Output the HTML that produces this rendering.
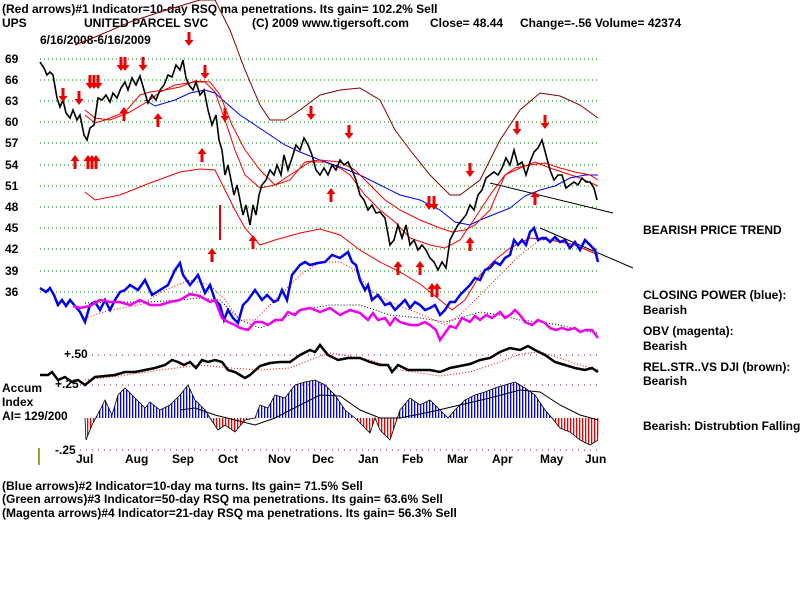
<!DOCTYPE html>
<html><head><meta charset="utf-8"><style>
body{margin:0;background:#fff;width:800px;height:600px;overflow:hidden}
svg{display:block}
text{font-family:"Liberation Sans",sans-serif;font-size:12px;font-weight:bold;fill:#000}
</style></head><body>
<svg width="800" height="600" viewBox="0 0 800 600" xmlns="http://www.w3.org/2000/svg">
<defs>
<pattern id="pb" width="3" height="10" patternUnits="userSpaceOnUse"><rect width="1.3" height="10" fill="#0000ee"/></pattern>
<pattern id="pr" width="3" height="10" patternUnits="userSpaceOnUse"><rect width="1.3" height="10" fill="#ee0000"/></pattern>
<clipPath id="ca"><rect x="0" y="0" width="800" height="418"/></clipPath>
<clipPath id="cb"><rect x="0" y="418" width="800" height="100"/></clipPath>
<g id="dn"><rect x="-1.5" y="-7" width="3" height="9" fill="#ee0000"/><polygon points="-4.5,1 4.5,1 0,7" fill="#ee0000"/></g>
<g id="up"><rect x="-1.5" y="-2" width="3" height="9" fill="#ee0000"/><polygon points="-4.5,-1 4.5,-1 0,-7" fill="#ee0000"/></g>
</defs>
<g stroke="#008000" stroke-dasharray="1,3" stroke-width="1">
<line x1="40" y1="59" x2="600" y2="59"/><line x1="40" y1="80" x2="600" y2="80"/><line x1="40" y1="101" x2="600" y2="101"/><line x1="40" y1="122" x2="600" y2="122"/><line x1="40" y1="143" x2="600" y2="143"/><line x1="40" y1="165" x2="600" y2="165"/><line x1="40" y1="186" x2="600" y2="186"/><line x1="40" y1="207" x2="600" y2="207"/><line x1="40" y1="228" x2="600" y2="228"/><line x1="40" y1="249" x2="600" y2="249"/><line x1="40" y1="271" x2="600" y2="271"/><line x1="40" y1="292" x2="600" y2="292"/>
</g>
<g stroke="#800080" stroke-dasharray="1,5"><line x1="80" y1="355" x2="600" y2="355"/><line x1="80" y1="385" x2="600" y2="385"/><line x1="80" y1="450" x2="600" y2="450"/></g>
<text x="2" y="13">(Red arrows)#1 Indicator=10-day RSQ ma penetrations. Its gain= 102.2% Sell</text>
<text x="2" y="27">UPS</text><text x="84" y="27">UNITED PARCEL SVC</text><text x="252" y="27">(C) 2009 www.tigersoft.com</text><text x="430" y="27">Close=  48.44</text><text x="520" y="27">Change=-.56 Volume= 42374</text>
<text x="40" y="44">6/16/2008-6/16/2009</text>
<g><text x="5" y="63">69</text><text x="5" y="84">66</text><text x="5" y="105">63</text><text x="5" y="126">60</text><text x="5" y="147">57</text><text x="5" y="169">54</text><text x="5" y="190">51</text><text x="5" y="211">48</text><text x="5" y="232">45</text><text x="5" y="253">42</text><text x="5" y="275">39</text><text x="5" y="296">36</text></g>
<polyline fill="none" stroke="#800000" points="75,45 100,35 130,22 160,12 200,0 215,0 230,30 245,70 260,105 270,120 285,120 300,110 320,95 340,90 360,88 380,100 395,130 410,150 430,175 450,195 460,195 480,180 500,140 520,110 540,93 560,96 580,105 598,118"/>
<polyline fill="none" stroke="#ee0000" points="85,110 95,118 110,120 130,112 150,100 160,92 175,85 195,82 205,82 215,92 225,120 235,150 245,175 260,188 275,185 290,175 310,162 325,162 340,168 350,175 365,195 380,210 395,222 410,238 430,245 445,248 460,240 475,218 490,195 505,175 520,168 535,162 550,168 565,173 580,178 598,186"/>
<polyline fill="none" stroke="#ee0000" points="85,192 95,200 120,195 150,183 180,172 200,169 215,170 225,190 235,210 245,228 260,245 275,240 300,233 320,229 340,235 360,250 380,262 400,272 420,284 440,300 452,310 465,300 480,275 495,260 510,248 530,238 550,240 575,245 598,255"/>
<polyline fill="none" stroke="#0000ee" points="145,100 155,106 165,103 175,100 190,93 205,90 215,93 225,102 240,115 255,125 270,135 285,145 300,152 320,160 340,167 360,175 380,185 400,195 420,200 440,210 455,222 470,225 480,220 495,214 510,208 525,196 540,190 555,186 570,178 585,175 598,175"/>
<polyline fill="none" stroke="#ee0000" points="85,115 95,123 105,120 125,112 140,95 150,92 165,90 180,87 195,81 210,82 220,95 232,125 245,150 260,170 275,185 290,180 305,162 320,160 340,162 355,170 370,185 385,200 400,210 420,220 440,228 452,232 465,230 475,225 490,210 505,175 515,168 530,165 545,163 560,168 575,172 590,175 598,180"/>
<polyline fill="none" stroke="#000" stroke-width="1.6" points="40,62 44,68 47,75 50,72 53,75 57,98 60,107 63,100 66,113 70,118 73,110 77,120 80,115 84,135 87,140 90,128 94,125 98,98 102,100 106,95 110,102 113,93 117,98 121,88 125,82 128,90 132,78 136,85 140,76 144,90 148,103 152,95 156,100 160,90 164,85 168,75 172,77 176,65 180,70 183,60 186,78 189,85 193,90 196,82 200,95 204,90 208,110 212,125 216,115 219,140 222,150 225,175 228,165 231,180 234,195 237,185 240,200 243,215 246,205 250,225 253,205 256,215 259,195 262,185 266,180 270,170 274,175 277,165 281,175 284,155 288,170 292,158 296,145 300,150 304,138 308,145 312,155 316,170 320,175 324,168 328,175 332,165 336,170 340,160 344,165 348,162 352,170 356,180 360,195 364,200 368,210 372,205 376,213 380,212 385,218 390,245 394,240 398,225 402,238 406,225 410,245 414,240 418,250 422,245 426,250 430,258 434,262 438,270 442,262 446,268 450,240 454,232 458,225 462,220 466,215 470,205 474,210 478,195 482,190 486,178 490,175 494,172 498,175 502,168 506,158 510,165 514,150 518,165 522,162 526,175 530,162 534,152 538,148 542,140 546,155 550,170 554,180 558,175 562,175 566,188 570,185 574,182 578,185 582,178 586,182 590,182 594,188 597,200"/>
<line x1="490" y1="183" x2="613" y2="213" stroke="#000"/>
<line x1="540" y1="228" x2="633" y2="268" stroke="#000"/>
<polyline fill="none" stroke="#ee0000" stroke-dasharray="1,2" points="85,318 110,310 140,305 165,290 190,280 210,285 225,300 240,320 255,320 275,300 300,275 320,262 340,262 355,270 370,290 390,302 410,310 430,318 445,325 460,315 480,295 500,275 520,255 540,240 560,240 580,247 598,253"/>
<polyline fill="none" stroke="#000" stroke-dasharray="1,2" points="85,303 120,302 150,302 180,300 200,298 220,300 240,320 260,328 280,320 300,310 330,305 360,305 390,315 420,318 445,322 460,318 480,312 500,315 520,320 540,322 560,325 580,330 598,333"/>
<polyline fill="none" stroke="#0000ee" stroke-width="2.5" points="40,288 46,292 50,288 54,295 58,305 62,300 66,306 70,300 75,306 80,312 85,322 90,305 95,302 100,310 105,300 110,310 115,300 120,292 125,290 130,285 138,290 145,280 152,295 160,290 168,285 175,270 180,263 183,275 190,285 198,275 205,293 210,285 215,300 220,305 224,320 228,310 233,318 238,323 243,305 248,300 255,290 262,300 267,295 274,302 278,300 282,290 287,300 292,275 300,265 305,262 310,265 318,263 325,262 332,255 340,258 348,252 352,262 356,265 360,280 365,290 368,285 372,300 378,295 385,305 390,303 395,310 400,305 405,300 410,308 415,302 420,305 425,310 430,308 435,305 440,315 445,310 450,302 455,302 460,295 465,290 470,285 475,278 480,280 485,270 490,268 495,262 500,265 505,258 510,255 514,240 518,245 522,240 526,245 530,232 534,228 538,240 542,238 546,238 550,242 555,237 560,242 565,240 570,248 575,242 580,250 585,240 590,245 595,250 598,262"/>
<polyline fill="none" stroke="#ee00ee" stroke-width="2.5" points="73,306 80,308 90,306 100,300 110,302 120,302 130,305 140,300 150,305 160,305 170,302 180,300 190,294 200,296 210,302 215,300 222,318 228,322 235,325 240,328 248,330 255,322 262,322 268,325 275,320 282,320 288,312 295,315 300,310 310,308 320,312 330,308 340,315 350,310 360,313 368,320 373,313 378,320 385,318 390,325 395,318 400,322 410,325 418,325 425,322 430,325 436,330 440,340 445,333 450,326 456,328 462,318 470,322 475,316 480,320 486,315 492,318 500,312 505,318 510,315 515,310 520,315 525,322 532,325 538,320 545,323 550,328 556,330 562,328 568,330 575,328 580,332 586,330 592,330 598,338"/>
<text x="64" y="358">+.50</text><text x="55" y="388">+.25</text><text x="55" y="454">-.25</text>
<polyline fill="none" stroke="#ee0000" stroke-dasharray="1,2" points="85,380 120,376 160,370 200,365 230,368 260,370 290,368 310,360 330,353 350,356 370,360 400,370 440,376 470,372 500,362 520,354 540,352 560,358 580,365 598,370"/>
<polyline fill="none" stroke="#000" stroke-width="2.5" points="40,375 48,375 52,372 58,380 65,377 72,382 78,380 85,385 95,377 105,376 115,375 125,372 135,372 145,370 155,368 165,365 172,360 178,362 184,365 190,362 196,368 202,360 208,362 215,360 222,362 228,370 235,372 245,378 250,375 260,366 270,363 280,362 290,362 300,355 310,350 315,352 320,345 328,355 338,360 348,358 360,358 370,362 380,365 388,365 392,372 398,365 408,370 420,370 430,370 440,372 450,368 460,366 470,364 480,360 490,358 500,352 510,348 520,350 528,346 535,350 545,355 555,362 565,365 575,368 585,370 592,368 598,372"/>
<g>
<polygon clip-path="url(#ca)" fill="url(#pb)" points="85,418 86,440 92,425 100,410 105,400 112,415 118,395 125,388 132,395 145,408 150,402 160,410 170,405 180,395 188,385 195,400 205,410 210,418 218,430 225,425 235,432 245,420 255,418 260,405 268,408 275,395 285,398 295,385 305,382 315,380 325,385 335,395 345,410 355,418 362,425 370,433 375,418 380,430 390,440 395,425 400,410 410,398 420,405 430,400 440,410 448,418 455,410 465,400 475,395 485,392 495,388 505,385 515,382 525,388 535,395 545,410 552,418 560,428 570,432 580,440 590,445 598,440 600,418"/>
<polygon clip-path="url(#cb)" fill="url(#pr)" points="85,418 86,440 92,425 100,410 105,400 112,415 118,395 125,388 132,395 145,408 150,402 160,410 170,405 180,395 188,385 195,400 205,410 210,418 218,430 225,425 235,432 245,420 255,418 260,405 268,408 275,395 285,398 295,385 305,382 315,380 325,385 335,395 345,410 355,418 362,425 370,433 375,418 380,430 390,440 395,425 400,410 410,398 420,405 430,400 440,410 448,418 455,410 465,400 475,395 485,392 495,388 505,385 515,382 525,388 535,395 545,410 552,418 560,428 570,432 580,440 590,445 598,440 600,418"/>
<polyline fill="none" stroke="#000" stroke-width="0.8" points="85,418 86,440 92,425 100,410 105,400 112,415 118,395 125,388 132,395 145,408 150,402 160,410 170,405 180,395 188,385 195,400 205,410 210,418 218,430 225,425 235,432 245,420 255,418 260,405 268,408 275,395 285,398 295,385 305,382 315,380 325,385 335,395 345,410 355,418 362,425 370,433 375,418 380,430 390,440 395,425 400,410 410,398 420,405 430,400 440,410 448,418 455,410 465,400 475,395 485,392 495,388 505,385 515,382 525,388 535,395 545,410 552,418 560,428 570,432 580,440 590,445 598,440"/>
<polyline fill="none" stroke="#000" points="180,410 195,408 215,415 235,420 255,425 275,418 300,405 320,395 340,396 360,410 380,418 400,418 430,412 460,405 490,398 520,390 540,392 560,405 580,415 598,420"/>
</g>
<line x1="39" y1="448" x2="39" y2="465" stroke="#808000" stroke-width="1.5"/>
<text x="2" y="392">Accum</text><text x="2" y="406">Index</text><text x="2" y="420">AI= 129/200</text>
<g><text x="76" y="463">Jul</text><text x="125" y="463">Aug</text><text x="172" y="463">Sep</text><text x="218" y="463">Oct</text><text x="268" y="463">Nov</text><text x="312" y="463">Dec</text><text x="358" y="463">Jan</text><text x="402" y="463">Feb</text><text x="447" y="463">Mar</text><text x="492" y="463">Apr</text><text x="540" y="463">May</text><text x="585" y="463">Jun</text></g>
<!-- arrows -->
<use href="#dn" x="63" y="95"/><use href="#dn" x="79" y="98"/><use href="#dn" x="90" y="82"/><use href="#dn" x="94" y="82"/><use href="#dn" x="98" y="82"/><use href="#dn" x="121" y="64"/><use href="#dn" x="125" y="64"/><use href="#dn" x="143" y="64"/><use href="#dn" x="189" y="39"/><use href="#dn" x="205" y="72"/><use href="#dn" x="225" y="115"/><use href="#dn" x="311" y="113"/><use href="#dn" x="349" y="132"/><use href="#dn" x="470" y="170"/><use href="#dn" x="429" y="203"/><use href="#dn" x="434" y="203"/><use href="#dn" x="517" y="128"/><use href="#dn" x="545" y="122"/>
<use href="#up" x="75" y="162"/><use href="#up" x="88" y="162"/><use href="#up" x="92" y="162"/><use href="#up" x="96" y="162"/><use href="#up" x="124" y="114"/><use href="#up" x="158" y="120"/><use href="#up" x="202" y="155"/><use href="#up" x="253" y="242"/><use href="#up" x="212" y="255"/><use href="#up" x="331" y="195"/><use href="#up" x="398" y="268"/><use href="#up" x="420" y="268"/><use href="#up" x="432" y="290"/><use href="#up" x="437" y="290"/><use href="#up" x="470" y="244"/><use href="#up" x="535" y="198"/>
<line x1="220" y1="205" x2="220" y2="240" stroke="#ee0000" stroke-width="2"/>
<text x="643" y="234">BEARISH PRICE TREND</text>
<text x="643" y="299">CLOSING POWER (blue):</text><text x="643" y="314">Bearish</text>
<text x="643" y="335">OBV (magenta):</text><text x="643" y="350">Bearish</text>
<text x="643" y="371">REL.STR..VS DJI (brown):</text><text x="643" y="385">Bearish</text>
<text x="643" y="430">Bearish: Distrubtion Falling.</text>
<text x="2" y="490">(Blue arrows)#2 Indicator=10-day ma turns. Its gain= 71.5% Sell</text>
<text x="2" y="503">(Green arrows)#3 Indicator=50-day RSQ ma penetrations. Its gain= 63.6% Sell</text>
<text x="2" y="517">(Magenta arrows)#4 Indicator=21-day RSQ ma penetrations. Its gain= 56.3% Sell</text>
</svg>
</body></html>
